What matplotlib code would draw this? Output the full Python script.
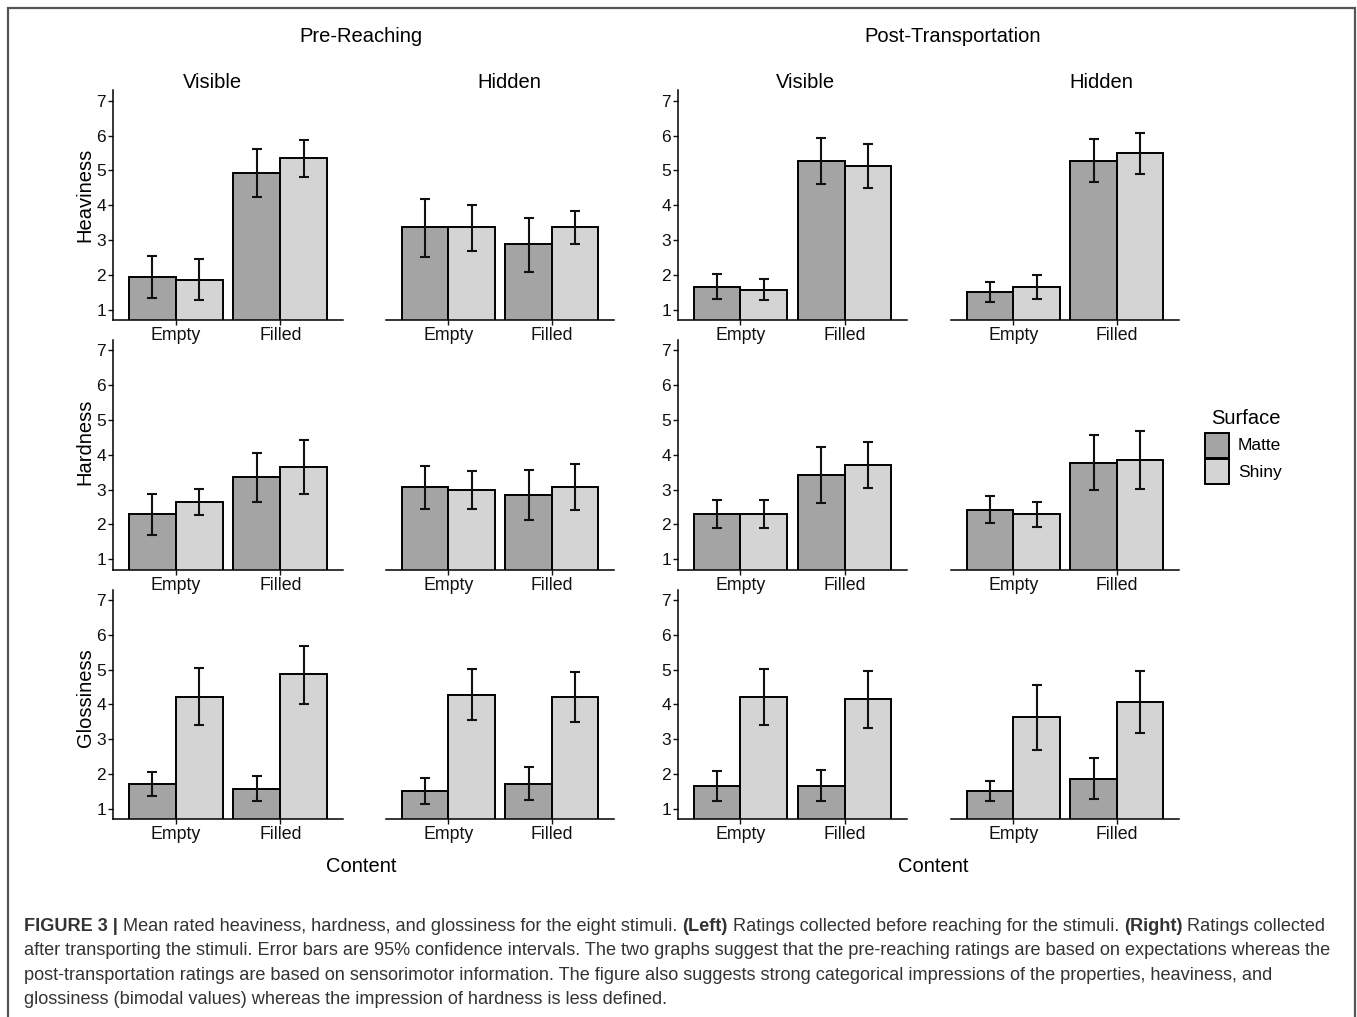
import matplotlib
matplotlib.use("Agg")
import matplotlib.pyplot as plt
from matplotlib.patches import Rectangle

plt.rcParams["font.family"] = ["Liberation Sans", "DejaVu Sans"]

# categories
phases = ["Pre-Reaching", "Post-Transportation"]
views = ["Visible", "Hidden"]
contents = ["Empty", "Filled"]
surfaces = ["Matte", "Shiny"]
properties = ["Heaviness", "Hardness", "Glossiness"]

# per panel: Pre-Visible, Pre-Hidden, Post-Visible, Post-Hidden
# values in each panel: Empty-Matte, Empty-Shiny, Filled-Matte, Filled-Shiny
heaviness_mean = [[1.93, 1.86, 4.92, 5.35], [3.36, 3.36, 2.87, 3.36],
                  [1.64, 1.57, 5.28, 5.13], [1.51, 1.65, 5.28, 5.50]]
heaviness_lo = [[1.32, 1.28, 4.24, 4.81], [2.52, 2.69, 2.08, 2.87],
                [1.29, 1.28, 4.62, 4.50], [1.21, 1.29, 4.67, 4.90]]
heaviness_hi = [[2.55, 2.44, 5.62, 5.88], [4.19, 4.01, 3.64, 3.84],
                [2.01, 1.87, 5.93, 5.77], [1.80, 2.00, 5.89, 6.08]]

hardness_mean = [[2.30, 2.65, 3.35, 3.65], [3.08, 2.99, 2.86, 3.08],
                 [2.30, 2.30, 3.42, 3.71], [2.42, 2.29, 3.78, 3.85]]
hardness_lo = [[1.70, 2.27, 2.65, 2.87], [2.44, 2.44, 2.14, 2.41],
               [1.90, 1.90, 2.62, 3.05], [2.05, 1.93, 2.99, 3.02]]
hardness_hi = [[2.87, 3.02, 4.05, 4.42], [3.68, 3.54, 3.56, 3.73],
               [2.70, 2.70, 4.22, 4.37], [2.81, 2.64, 4.56, 4.69]]

glossiness_mean = [[1.72, 4.22, 1.57, 4.86], [1.50, 4.28, 1.72, 4.22],
                   [1.64, 4.22, 1.64, 4.14], [1.50, 3.63, 1.86, 4.07]]
glossiness_lo = [[1.37, 3.40, 1.21, 4.01], [1.15, 3.55, 1.25, 3.50],
                 [1.22, 3.40, 1.22, 3.33], [1.22, 2.70, 1.28, 3.18]]
glossiness_hi = [[2.07, 5.04, 1.95, 5.69], [1.88, 5.02, 2.20, 4.93],
                 [2.08, 5.03, 2.12, 4.95], [1.80, 4.57, 2.45, 4.97]]

y_ticks = [1, 2, 3, 4, 5, 6, 7]

ROWS = [
    (heaviness_mean, heaviness_lo, heaviness_hi),
    (hardness_mean, hardness_lo, hardness_hi),
    (glossiness_mean, glossiness_lo, glossiness_hi),
]
SURF_COLOR = ["#a4a4a4", "#d4d4d4"]

W, H, DPI = 1357, 1017, 100


def fx(x):
    return x / W


def fy(y):
    return 1 - y / H


fig = plt.figure(figsize=(W / DPI, H / DPI), dpi=DPI, facecolor="white")

# layout in pixels (left edge, width) per column, bottom per row
COL_X = [113, 386, 678, 951]
COL_W = [230, 228, 229, 228]
ROW_BOTTOM = [320, 569.7, 819.2]
AX_H = 229.7
BAR_W = 0.45

for r, (means, lo, hi) in enumerate(ROWS):
    for c in range(4):
        ax = fig.add_axes([fx(COL_X[c]), fy(ROW_BOTTOM[r]), COL_W[c] / W, AX_H / H])
        ax.patch.set_visible(False)
        for s in range(2):
            xs = [i + 1 + (s - 0.5) * BAR_W for i in range(len(contents))]
            vals = [means[c][i * 2 + s] for i in range(len(contents))]
            los = [lo[c][i * 2 + s] for i in range(len(contents))]
            his = [hi[c][i * 2 + s] for i in range(len(contents))]
            ax.bar(xs, vals, width=BAR_W, color=SURF_COLOR[s], edgecolor="black",
                   linewidth=1.4, zorder=2)
            ax.errorbar(xs, vals,
                        yerr=[[v - l for v, l in zip(vals, los)],
                              [h - v for v, h in zip(vals, his)]],
                        fmt="none", ecolor="#111", elinewidth=1.5, capsize=3.6,
                        capthick=1.5, zorder=3)
        ax.set_xlim(0.4, 2.6)
        ax.set_ylim(0.7, 7.3)
        ax.set_xticks([1, 2], contents)
        ax.tick_params(axis="x", length=3.5, width=1.0, pad=1.5, labelsize=12.8,
                       colors="#111")
        ax.spines["top"].set_visible(False)
        ax.spines["right"].set_visible(False)
        ax.spines["bottom"].set_linewidth(1.1)
        if c in (0, 2):
            ax.set_yticks(y_ticks)
            ax.tick_params(axis="y", length=3.5, width=1.0, pad=1.5, labelsize=12.5,
                           colors="#111")
            ax.spines["left"].set_linewidth(1.1)
        else:
            ax.set_yticks([])
            ax.spines["left"].set_visible(False)

# row labels
for prop, yc in zip(properties, [195, 442, 698]):
    fig.text(fx(85), fy(yc), prop, rotation=90, ha="center", va="center", fontsize=14.5)

# group and panel titles
for name, xc in zip(phases, [361, 953]):
    fig.text(fx(xc), fy(36), name, ha="center", va="center", fontsize=14.5)
for i, xc in enumerate([212, 509, 805, 1101]):
    fig.text(fx(xc), fy(82), views[i % 2], ha="center", va="center", fontsize=14.5)
for xc in [361, 933]:
    fig.text(fx(xc), fy(866), "Content", ha="center", va="center", fontsize=14.5)

# legend (drawn by hand to match the ggplot key layout)
fig.text(fx(1211), fy(418), "Surface", ha="left", va="center", fontsize=14.5)
for s, name in enumerate(surfaces):
    top = 433 + s * 26
    fig.add_artist(Rectangle((fx(1205), fy(top + 25)), 24 / W, 25 / H,
                             transform=fig.transFigure, facecolor=SURF_COLOR[s],
                             edgecolor="black", linewidth=1.4))
    fig.text(fx(1238), fy(top + 13), name, ha="left", va="center", fontsize=12.5)

# outer frame
fig.add_artist(Rectangle((fx(8), fy(1030)), 1347 / W, 1022 / H,
                         transform=fig.transFigure, fill=False,
                         edgecolor="#555", linewidth=1.6))

# caption
caption_lines = [
    [("FIGURE 3 |", True),
     (" Mean rated heaviness, hardness, and glossiness for the eight stimuli. ", False),
     ("(Left)", True), (" Ratings collected before reaching for the stimuli. ", False),
     ("(Right)", True), (" Ratings collected", False)],
    [("after transporting the stimuli. Error bars are 95% confidence intervals. The two "
      "graphs suggest that the pre-reaching ratings are based on expectations whereas the",
      False)],
    [("post-transportation ratings are based on sensorimotor information. The figure also "
      "suggests strong categorical impressions of the properties, heaviness, and", False)],
    [("glossiness (bimodal values) whereas the impression of hardness is less defined.",
      False)],
]
renderer = fig.canvas.get_renderer()
for li, segs in enumerate(caption_lines):
    x = fx(24)
    y = fy(931 + li * 24.3)
    for text, bold in segs:
        t = fig.text(x, y, text, ha="left", va="baseline", fontsize=13.1,
                     color="#333333", fontweight="bold" if bold else "normal")
        x += t.get_window_extent(renderer).width / W

fig.savefig("out.png", dpi=DPI, facecolor="white")
